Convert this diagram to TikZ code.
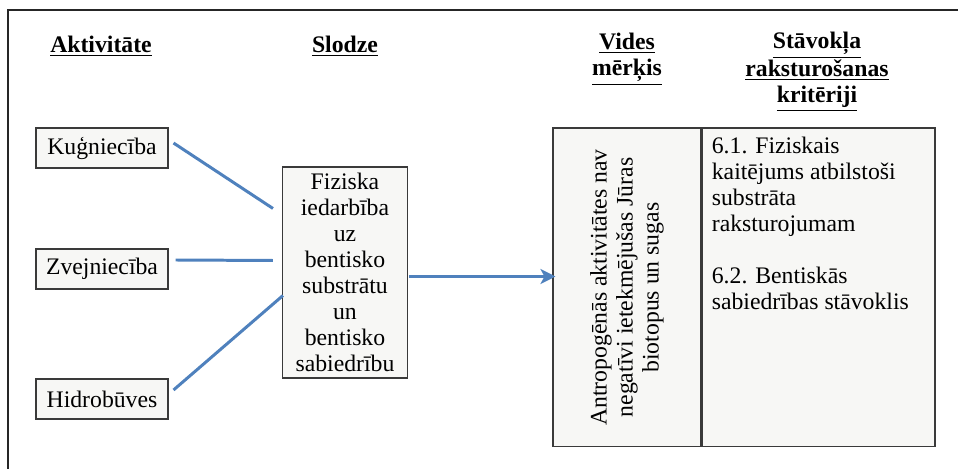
\documentclass[tikz,border=0pt]{standalone}
\usepackage{fontspec}
\setmainfont{Liberation Serif}[Ligatures=TeX]
\newfontfamily\diagfont{Liberation Serif}
\usepackage{tikz}
\usetikzlibrary{arrows.meta}
\definecolor{linkblue}{HTML}{4F81BD}
\definecolor{boxfill}{HTML}{F7F7F5}
\definecolor{boxedge}{HTML}{3A3A3A}

\begin{document}
\begin{tikzpicture}[x=0.02cm,y=-0.02cm,
            every node/.style={font=\diagfont\fontsize{13.5}{14.8}\selectfont},
            head/.style={font=\diagfont\fontsize{13.5}{14.8}\selectfont\bfseries, align=center},
            greybox/.style={draw=boxedge, fill=boxfill, line width=0.6pt, inner sep=0pt},
            actbox/.style={greybox, minimum width=2.64cm, minimum height=0.8cm},
            link/.style={draw=linkblue, line width=1.7pt},
            ]
            \useasboundingbox (0,0) rectangle (958,469);
            
            % frame
            \draw[line width=0.9pt, color=black!85] (958,10) -- (8,10) -- (8,469);
            
            % column heads
            \node[head] (hakt) at (101,46) {\underline{Aktivitāte}};
            \node[head] (hslo) at (345,46) {\underline{Slodze}};
            \node[head] (hmer) at (627,59) {\underline{Vides}\\\underline{mērķis}};
            \node[head] (hkri) at (817,72) {\underline{Stāvokļa}\\\underline{raksturošanas}\\\underline{kritēriji}};
            
            \node[actbox] (kug) at (102,148) {Kuģniecība};
            \node[actbox] (zvej) at (102,269) {Zvejniecība};
            \node[actbox] (hidro) at (102,399) {Hidrobūves};
            
            \node[greybox, minimum width=2.5cm, minimum height=4.22cm, align=center]
                (slodze) at (345,272.5)
                {Fiziska\\iedarbība\\uz\\bentisko\\substrātu\\un\\bentisko\\sabiedrību};
            
            \node[greybox, rotate=90, minimum width=6.38cm, minimum height=2.96cm, align=center]
                (merkis) at (627,287.5)
                {Antropogēnās aktivitātes nav\\negatīvi ietekmējušas Jūras\\biotopus un sugas};
            \node[greybox, anchor=west, minimum width=4.66cm, minimum height=6.38cm]
                (krit) at (merkis.south) {};
            \node[anchor=north west, align=left, inner sep=0pt] (kritxt)
                at ([shift={(10,9)}]krit.north west)
                {6.1. Fiziskais\\kaitējums atbilstoši\\substrāta\\raksturojumam\\[14.8pt]6.2. Bentiskās\\sabiedrības stāvoklis};
            
            % connectors
            \draw[link] ([shift={(5,-5)}]kug.east) -- ([shift={(-9,-64)}]slodze.west);
            \draw[link] ([shift={(7,-9)}]zvej.east) -- ([shift={(-9,-12)}]slodze.west);
            \draw[link] ([shift={(5,-9)}]hidro.east) -- ([shift={(1,23)}]slodze.west);
            \draw[link, -{Stealth[length=0.3cm, width=0.3cm, inset=0.08cm]}]
                ([shift={(1,4)}]slodze.east) -- ([shift={(3,-11)}]merkis.north);
            
\end{tikzpicture}
\end{document}
